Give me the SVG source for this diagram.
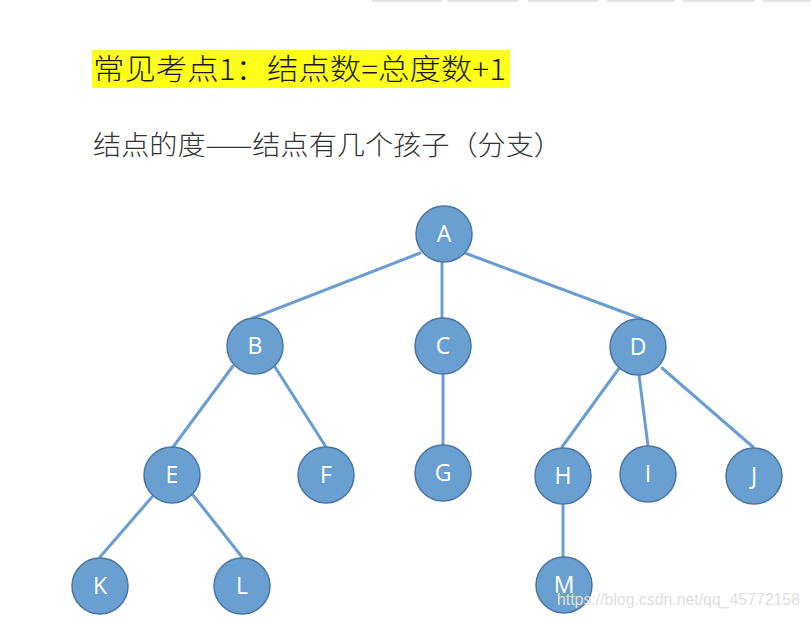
<svg xmlns="http://www.w3.org/2000/svg" width="811" height="618" viewBox="0 0 811 618">
<style>
.tab{fill:#e4e4e4}
.edge{stroke:#6a9dd0;stroke-width:3;fill:none;stroke-linecap:round}
.node circle{fill:#6a9fd2;stroke:#4a76a0;stroke-width:1.5}
.node text{fill:#ffffff;font-family:"Open Sans","Liberation Sans",sans-serif;font-size:23px;text-anchor:middle}
.cjk{font-family:"Noto Sans CJK SC","Noto Sans",sans-serif;font-weight:300}
</style>
<rect width="811" height="618" fill="#ffffff"/>
<g id="tabs">
<rect class="tab" x="372" y="0" width="70" height="2"/>
<rect class="tab" x="447" y="0" width="71" height="2"/>
<rect class="tab" x="528" y="0" width="70" height="2"/>
<rect class="tab" x="607" y="0" width="68" height="2"/>
<rect class="tab" x="683" y="0" width="72" height="2"/>
<rect class="tab" x="763" y="0" width="48" height="2"/>
</g>
<g id="title">
<rect x="92" y="50" width="418" height="38" fill="#ffff1a"/>
<text class="cjk" x="93" y="80" font-size="29" fill="#1a1a1a" textLength="413" lengthAdjust="spacingAndGlyphs">常见考点1：结点数=总度数+1</text>
</g>
<g id="subtitle">
<text class="cjk" x="93" y="155" font-size="27" fill="#333333" textLength="469" lengthAdjust="spacingAndGlyphs">结点的度——结点有几个孩子（分支）</text>
</g>
<g id="connectors">
<line class="edge" x1="420" y1="253" x2="253" y2="318"/>
<line class="edge" x1="442" y1="262" x2="442" y2="318"/>
<line class="edge" x1="465" y1="253" x2="642" y2="319"/>
<line class="edge" x1="233" y1="366" x2="173" y2="447"/>
<line class="edge" x1="275" y1="367" x2="326" y2="447"/>
<line class="edge" x1="443" y1="374" x2="443" y2="445"/>
<line class="edge" x1="620" y1="367" x2="562" y2="447"/>
<line class="edge" x1="639" y1="375" x2="648" y2="446"/>
<line class="edge" x1="662" y1="368" x2="753" y2="447"/>
<line class="edge" x1="152" y1="497" x2="100" y2="557"/>
<line class="edge" x1="193" y1="495" x2="242" y2="557"/>
<line class="edge" x1="563" y1="504" x2="563" y2="557"/>
</g>
<g id="A" class="node"><circle cx="444" cy="234" r="28"/><text x="444" y="242">A</text></g>
<g id="B" class="node"><circle cx="255" cy="346" r="28"/><text x="255" y="354">B</text></g>
<g id="C" class="node"><circle cx="443" cy="346" r="28"/><text x="443" y="354">C</text></g>
<g id="D" class="node"><circle cx="638" cy="347" r="28"/><text x="638" y="355">D</text></g>
<g id="E" class="node"><circle cx="172" cy="475" r="28"/><text x="172" y="483">E</text></g>
<g id="F" class="node"><circle cx="326" cy="475" r="28"/><text x="326" y="483">F</text></g>
<g id="G" class="node"><circle cx="443" cy="473" r="28"/><text x="443" y="481">G</text></g>
<g id="H" class="node"><circle cx="563" cy="476" r="28"/><text x="563" y="484">H</text></g>
<g id="I" class="node"><circle cx="648" cy="474" r="28"/><text x="648" y="482">I</text></g>
<g id="J" class="node"><circle cx="754" cy="476" r="28"/><text x="754" y="484">J</text></g>
<g id="K" class="node"><circle cx="100" cy="586" r="28"/><text x="100" y="594">K</text></g>
<g id="L" class="node"><circle cx="242" cy="586" r="28"/><text x="242" y="594">L</text></g>
<g id="M" class="node"><circle cx="564" cy="585" r="28"/><text x="564" y="593">M</text></g>
<g id="watermark">
<text x="557" y="605" font-family="Liberation Sans, Arial, sans-serif" font-size="17" fill="#e0e0e0" textLength="243" lengthAdjust="spacingAndGlyphs">https://blog.csdn.net/qq_45772158</text>
</g>
</svg>
